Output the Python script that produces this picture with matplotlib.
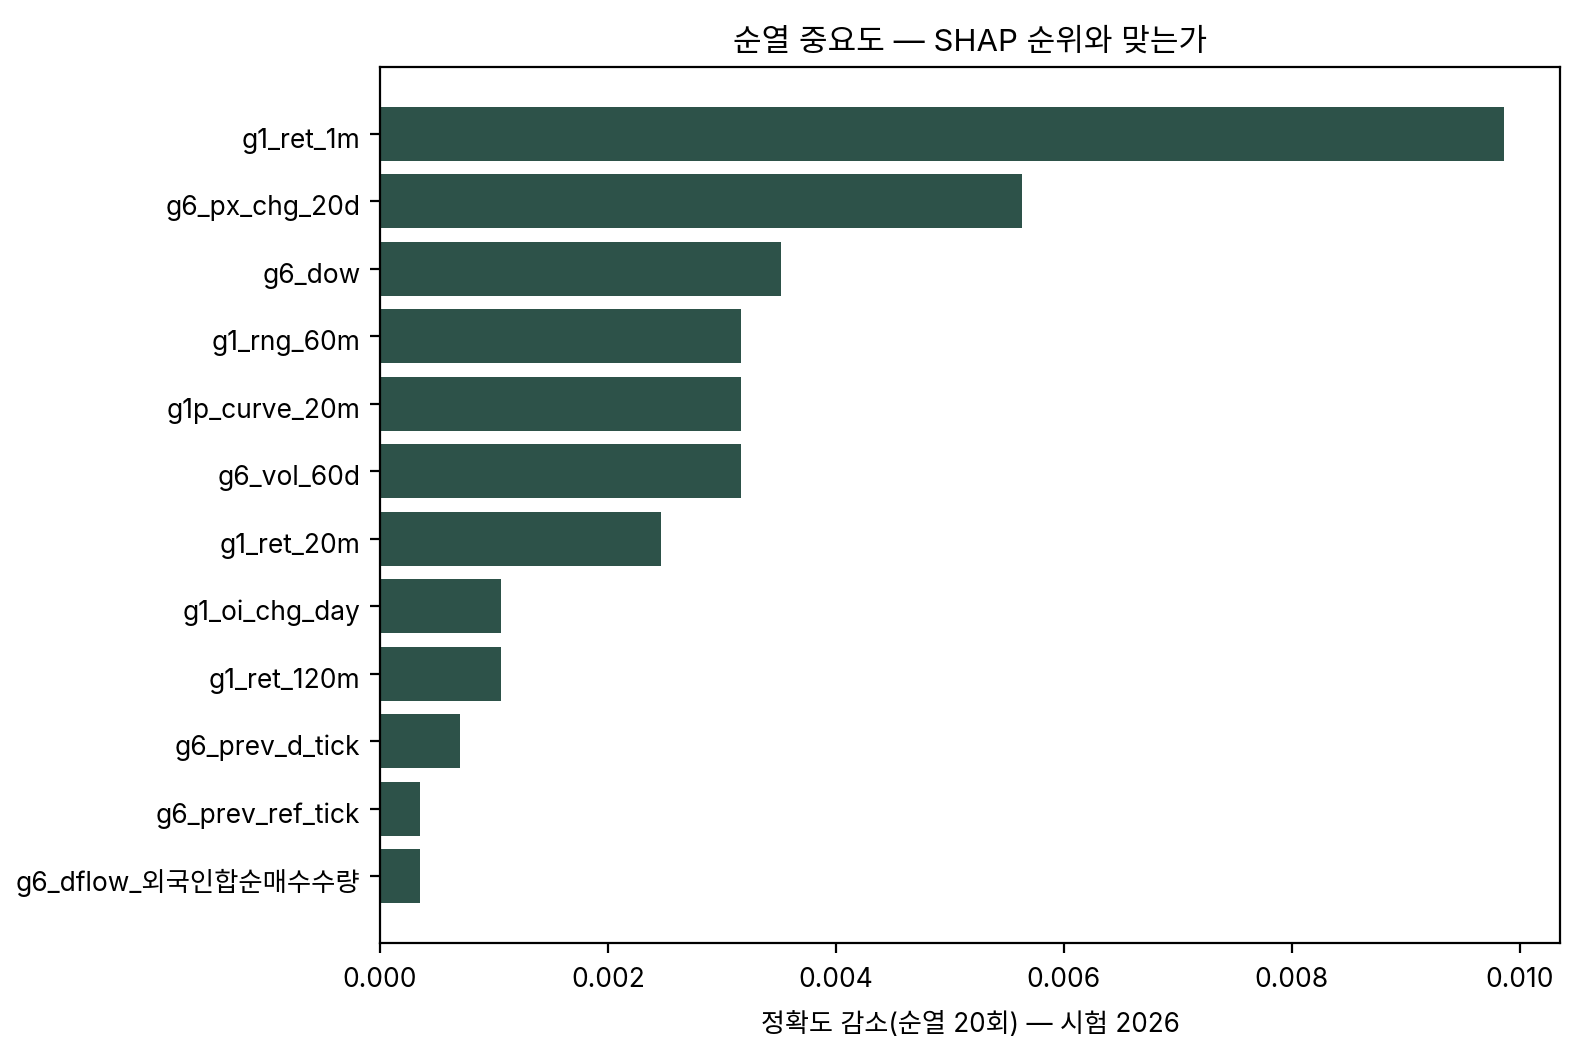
import matplotlib
matplotlib.use("Agg")
import matplotlib.pyplot as plt
from matplotlib.transforms import ScaledTranslation

plt.rcParams['font.family'] = ['Inter', 'Noto Sans CJK KR', 'DejaVu Sans']

# feature names, top to bottom
features = [
    "g1_ret_1m", "g6_px_chg_20d", "g6_dow", "g1_rng_60m", "g1p_curve_20m",
    "g6_vol_60d", "g1_ret_20m", "g1_oi_chg_day", "g1_ret_120m",
    "g6_prev_d_tick", "g6_prev_ref_tick", "g6_dflow_외국인합순매수수량",
]
# mean accuracy drop (20 permutations)
importance = [
    0.00986, 0.00563, 0.00352, 0.00317, 0.00317,
    0.00317, 0.00247, 0.00106, 0.00106,
    0.000704, 0.000352, 0.000352,
]

fig = plt.figure(figsize=(7.9, 5.3), dpi=200)
ax = fig.add_axes([0.2405, 0.1104, 0.9873 - 0.2405, 0.9368 - 0.1104])

ax.barh(features[::-1], importance[::-1], color="#2d5249")
ax.set_title("순열 중요도 — SHAP 순위와 맞는가", fontsize=11.2)
ax.set_xlabel("정확도 감소(순열 20회) — 시험 2026", fontsize=9.4, labelpad=7)
ax.tick_params(labelsize=9.5)
ax.tick_params(axis="x", pad=5)

# labels sit a touch below the tick in the original
shift = ScaledTranslation(0, -4 / 200, fig.dpi_scale_trans)
for lbl in ax.get_yticklabels():
    lbl.set_transform(lbl.get_transform() + shift)

fig.savefig("out.png", dpi=200)
